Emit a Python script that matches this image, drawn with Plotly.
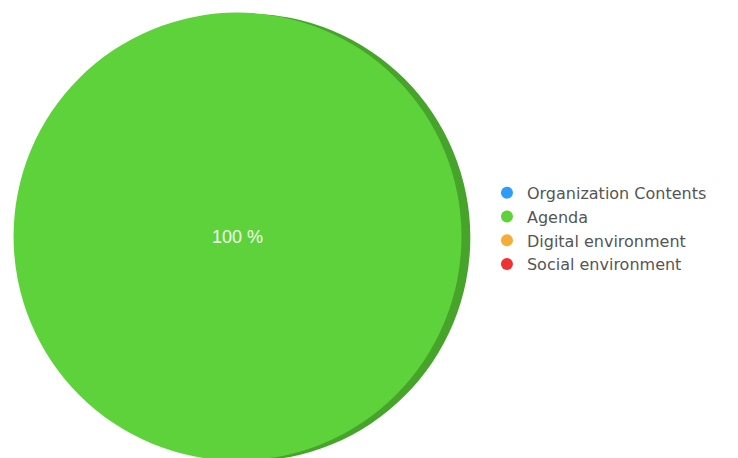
import plotly.graph_objects as go

categories = ["Organization Contents", "Agenda", "Digital environment", "Social environment"]
values = [0, 100, 0, 0]
colors = ["#2f9bfb", "#5dd23a", "#f6ad38", "#ee3232"]
edge_colors = ["#2a7fcc", "#46a42a", "#c98a2a", "#b82626"]

labels_text = [f"{v} %" if v > 0 else "" for v in values]

fig = go.Figure()

# darker "depth" pie behind, slightly offset to the right
fig.add_trace(go.Pie(
    labels=categories, values=values, sort=False, direction="clockwise",
    marker=dict(colors=edge_colors, line=dict(width=0)),
    textinfo="none", hoverinfo="skip", showlegend=False,
    domain=dict(x=[0.012, 0.634], y=[0.010, 0.988]),
))
# main pie
fig.add_trace(go.Pie(
    labels=categories, values=values, sort=False, direction="clockwise",
    marker=dict(colors=colors, line=dict(width=0)),
    text=labels_text, textinfo="text", textposition="inside",
    insidetextfont=dict(color="#f4fff0", size=18, family="Liberation Sans"),
    showlegend=False,
    domain=dict(x=[0.0, 0.622], y=[0.012, 0.99]),
))

# legend entries with circle markers
for name, c in zip(categories, colors):
    fig.add_trace(go.Scatter(
        x=[None], y=[None], mode="markers", name=name, legendgroup=name,
        marker=dict(symbol="circle", size=16, color=c),
    ))

fig.update_layout(
    width=738, height=458,
    margin=dict(l=0, r=0, t=0, b=0),
    paper_bgcolor="white", plot_bgcolor="white",
    xaxis=dict(visible=False), yaxis=dict(visible=False),
    legend=dict(
        x=0.649, y=0.518, xanchor="left", yanchor="middle",
        font=dict(family="DejaVu Sans", size=16, color="#555555"),
        itemsizing="constant", tracegroupgap=0,
        bgcolor="rgba(0,0,0,0)",
    ),
)

fig.write_html("out.html")
